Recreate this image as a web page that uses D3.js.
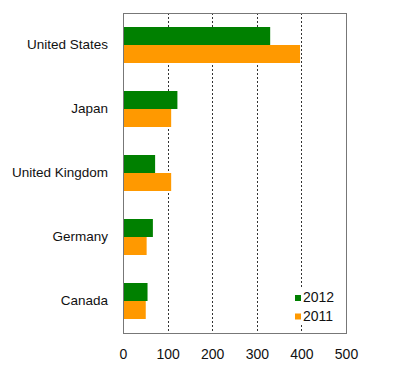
<!DOCTYPE html>
<html lang="en">
<head>
<meta charset="utf-8">
<title>Bars 2011 / 2012</title>
<script src="https://d3js.org/d3.v7.min.js"></script>
<style>
  body { margin: 0; background: #fff; }
  text { font-family: "Liberation Sans", Arial, sans-serif; fill: #111; }
</style>
</head>
<body>
<svg id="chart"></svg>
<script>
var categories = ["United States", "Japan", "United Kingdom", "Germany", "Canada"];
var seriesNames = ["2012", "2011"];
var values2012 = [330, 122, 72, 67, 55];
var values2011 = [397, 108, 108, 53, 51];
var xTicks = [0, 100, 200, 300, 400, 500];

var width = 394, height = 368;
var margin = {left: 123, right: 48, top: 13, bottom: 35};
var colors = {"2012": "#008000", "2011": "#ff9900"};

var svg = d3.select("#chart").attr("width", width).attr("height", height);

var x = d3.scaleLinear().domain([0, 500]).range([margin.left, width - margin.right]);
var y = d3.scaleBand().domain(categories)
  .range([margin.top, height - margin.bottom])
  .paddingInner(0.4375).paddingOuter(0.21875);
var ySub = d3.scaleBand().domain(seriesNames).range([0, y.bandwidth()]);

var rows = categories.map((c, i) => ({cat: c, "2012": values2012[i], "2011": values2011[i]}));

// gridlines
svg.append("g").selectAll("line")
  .data(xTicks.slice(1, -1))
  .join("line")
  .attr("x1", d => Math.round(x(d)) + 0.5).attr("x2", d => Math.round(x(d)) + 0.5)
  .attr("y1", margin.top).attr("y2", height - margin.bottom)
  .attr("stroke", "#333").attr("stroke-dasharray", "2,2");

// bars
svg.append("g").selectAll("g")
  .data(rows)
  .join("g")
  .attr("transform", d => "translate(0," + y(d.cat) + ")")
  .selectAll("rect")
  .data(d => seriesNames.map(s => ({s: s, v: d[s]})))
  .join("rect")
  .attr("x", x(0))
  .attr("y", d => ySub(d.s))
  .attr("width", d => x(d.v) - x(0))
  .attr("height", ySub.bandwidth())
  .attr("fill", d => colors[d.s]);

// border
svg.append("rect")
  .attr("x", margin.left + 0.5).attr("y", margin.top + 0.5)
  .attr("width", width - margin.left - margin.right)
  .attr("height", height - margin.top - margin.bottom)
  .attr("fill", "none").attr("stroke", "#777");

// x axis
var xAxis = svg.append("g")
  .attr("transform", "translate(0," + (height - margin.bottom) + ")")
  .call(d3.axisBottom(x).tickValues(xTicks).tickSize(0).tickPadding(16));
xAxis.select(".domain").remove();
xAxis.selectAll("text").style("font-size", "14px").attr("fill", "#111");

// y axis
var yAxis = svg.append("g")
  .attr("transform", "translate(" + margin.left + ",0)")
  .call(d3.axisLeft(y).tickSize(0).tickPadding(15));
yAxis.select(".domain").remove();
yAxis.selectAll("text").style("font-size", "13.5px").attr("fill", "#111");

// legend
var legend = svg.append("g");
legend.append("rect")
  .attr("x", 290).attr("y", 289).attr("width", 54).attr("height", 35)
  .attr("fill", "#fff");
seriesNames.forEach((s, i) => {
  legend.append("rect")
    .attr("x", 295).attr("y", 295 + i * 18.5)
    .attr("width", 6).attr("height", 6)
    .attr("fill", colors[s]);
  legend.append("text")
    .attr("x", 303).attr("y", 302 + i * 18.5)
    .style("font-size", "14px")
    .text(s);
});
</script>
</body>
</html>
